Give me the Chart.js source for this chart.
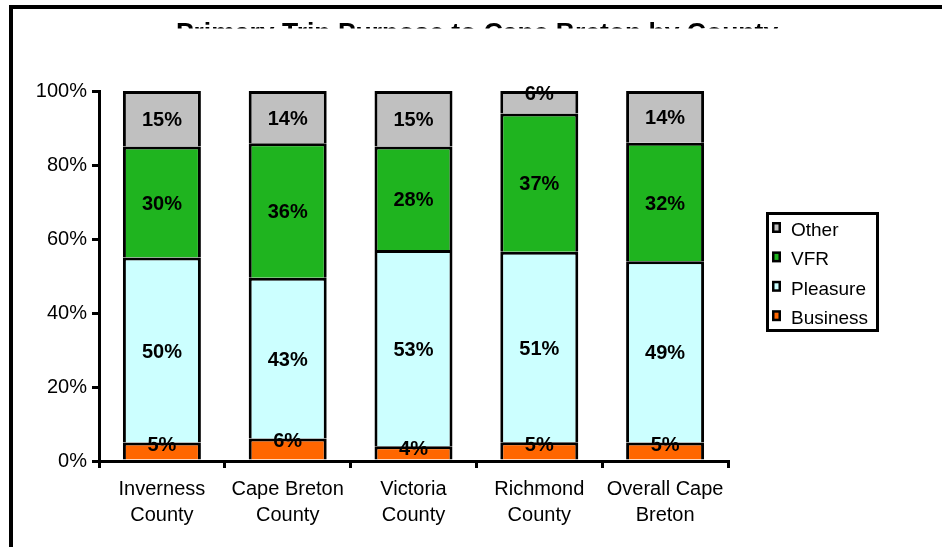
<!DOCTYPE html>
<html>
<head>
<meta charset="utf-8">
<script src="https://cdn.jsdelivr.net/npm/chart.js@4"></script>
<style>
  html, body { margin: 0; padding: 0; background: #fff; }
  #wrap { width: 942px; height: 547px; }
</style>
</head>
<body>
<div id="wrap"><canvas id="c" width="942" height="547"></canvas></div>
<script>
const chartTitle = "Primary Trip Purpose to Cape Breton by County";
const categories = [["Inverness", "County"], ["Cape Breton", "County"], ["Victoria", "County"], ["Richmond", "County"], ["Overall Cape", "Breton"]];
const seriesNames = ["Business", "Pleasure", "VFR", "Other"];
const business = [5, 6, 4, 5, 5];
const pleasure = [50, 43, 53, 51, 49];
const vfr = [30, 36, 28, 37, 32];
const other = [15, 14, 15, 6, 14];
const yTickValues = [0, 20, 40, 60, 80, 100];
const colors = ["#FF6600", "#CCFFFF", "#1FB41F", "#C0C0C0"];

const raw = [business, pleasure, vfr, other];
const totals = categories.map((_, i) => raw.reduce((s, arr) => s + arr[i], 0));
const FONT = "Arial, 'Liberation Sans', sans-serif";

const datasets = raw.map((arr, k) => ({
  label: seriesNames[k],
  data: arr.map((v, i) => v / totals[i] * 100),
  rawValues: arr,
  backgroundColor: colors[k],
  borderColor: "#000",
  borderWidth: 3,
  borderSkipped: "start",
  categoryPercentage: 1,
  barPercentage: 0.62
}));

const decor = {
  id: "decor",
  beforeDraw(chart) {
    const ctx = chart.ctx;
    ctx.save();
    ctx.fillStyle = "#fff";
    ctx.fillRect(0, 0, chart.width, chart.height);
    ctx.fillStyle = "#000";
    ctx.fillRect(9, 5, chart.width - 9, 4);
    ctx.fillRect(9, 5, 4, chart.height - 5);
    // title, clipped at its lower half as in the source
    ctx.beginPath();
    ctx.rect(0, 9, chart.width, 19.5);
    ctx.clip();
    ctx.font = "bold 26.5px " + FONT;
    ctx.textAlign = "center";
    ctx.textBaseline = "alphabetic";
    ctx.fillText(chartTitle, 477, 41);
    ctx.restore();
  },
  afterDatasetsDraw(chart) {
    const ctx = chart.ctx;
    ctx.save();
    ctx.font = "bold 20px " + FONT;
    ctx.fillStyle = "#000";
    ctx.textAlign = "center";
    ctx.textBaseline = "middle";
    chart.data.datasets.forEach((ds, k) => {
      const meta = chart.getDatasetMeta(k);
      meta.data.forEach((el, i) => {
        const h = Math.abs(el.base - el.y);
        const yc = h < 26 ? Math.min(el.y + 3, el.base - 8) : (el.y + el.base) / 2 + 2;
        ctx.fillText(ds.rawValues[i] + "%", el.x, yc);
      });
    });
    ctx.restore();
  },
  afterDraw(chart) {
    const ctx = chart.ctx;
    ctx.save();
    ctx.strokeStyle = "#000";
    ctx.lineWidth = 3;
    ctx.strokeRect(767.5, 213.5, 110, 117);
    ctx.font = "19px " + FONT;
    ctx.textAlign = "left";
    ctx.textBaseline = "alphabetic";
    const order = [3, 2, 1, 0];
    order.forEach((k, j) => {
      const base = 236 + j * 29.4;
      const ds = chart.data.datasets[k];
      ctx.fillStyle = "#000";
      ctx.fillRect(772, base - 14, 9, 11);
      ctx.fillStyle = ds.backgroundColor;
      ctx.fillRect(774.5, base - 11.5, 4, 6);
      ctx.fillStyle = "#000";
      ctx.fillText(ds.label, 791, base);
    });
    ctx.restore();
  }
};

new Chart(document.getElementById("c"), {
  type: "bar",
  data: { labels: categories, datasets },
  options: {
    responsive: false,
    animation: false,
    devicePixelRatio: 1,
    layout: { padding: { top: 91, right: 942 - 728, bottom: 0, left: 0 } },
    plugins: { legend: { display: false }, tooltip: { enabled: false }, title: { display: false } },
    scales: {
      x: {
        stacked: true,
        grid: { display: true, drawOnChartArea: false, drawTicks: true, tickLength: 7, color: "#000", lineWidth: 3, offset: true },
        border: { display: true, color: "#000", width: 3 },
        ticks: { color: "#000", font: { family: FONT, size: 20, lineHeight: 1.3 }, padding: 8, maxRotation: 0, autoSkip: false },
        afterFit(s) { s.height = 86; }
      },
      y: {
        stacked: true,
        min: 0, max: 100,
        afterBuildTicks(s) { s.ticks = yTickValues.map(v => ({ value: v })); },
        grid: { display: true, drawOnChartArea: false, drawTicks: true, tickLength: 7, color: "#000", lineWidth: 3 },
        border: { display: true, color: "#000", width: 3 },
        ticks: { color: "#000", font: { family: FONT, size: 20 }, padding: 5, callback: v => v + "%" },
        afterFit(s) { s.width = 99; }
      }
    }
  },
  plugins: [decor]
});
</script>
</body>
</html>
